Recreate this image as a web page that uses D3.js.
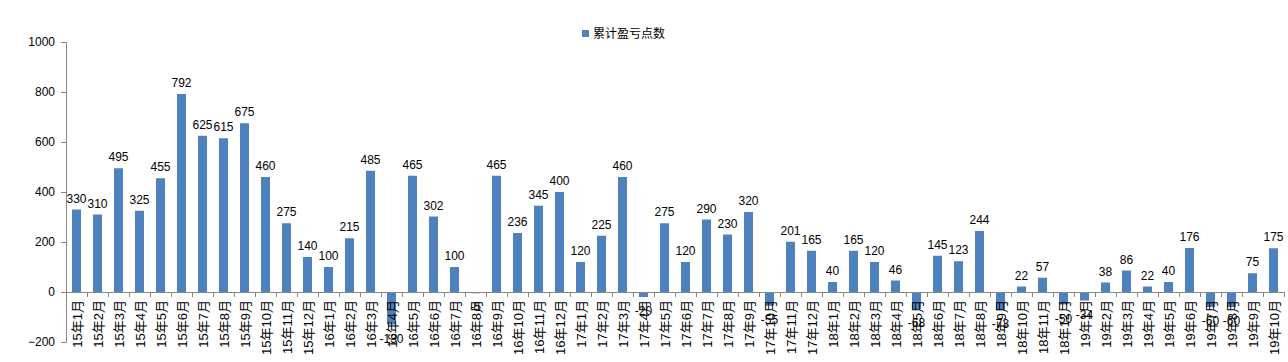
<!DOCTYPE html>
<html>
<head>
<meta charset="utf-8">
<script src="https://cdn.jsdelivr.net/npm/d3@7"></script>
<style>
  body { margin: 0; background: #fff; }
  svg { display: block; }
</style>
</head>
<body>
<div id="chart"></div>
<script>
// months, 15年1月 .. 19年10月
const years = ["15", "16", "17", "18", "19"];
const months = years.flatMap(y => d3.range(1, 13).map(m => `${y}年${m}月`)).slice(0, 58);

// 累计盈亏点数
const values = [
    330, 310, 495, 325, 455, 792, 625, 615, 675, 460, 275, 140,
    100, 215, 485, -130, 465, 302, 100, -5, 465, 236, 345, 400,
    120, 225, 460, -20, 275, 120, 290, 230, 320, -55, 201, 165,
    40, 165, 120, 46, -68, 145, 123, 244, -73, 22, 57, -50,
    -34, 38, 86, 22, 40, 176, -60, -60, 75, 175
];
const yTicks = [-200, 0, 200, 400, 600, 800, 1000];
const seriesName = "累计盈亏点数";

const width = 1288;
const height = 362;
const color = "#4F81BD";
const axisColor = "#868686";
const numFont = "'Liberation Sans', Arial, sans-serif";
const cjkFont = "'Liberation Sans', 'Noto Sans CJK SC', sans-serif";

const data = months.map((m, i) => ({ month: m, value: values[i] }));

const svg = d3.select("#chart")
    .append("svg")
    .attr("width", width)
    .attr("height", height);

const x = d3.scaleBand()
    .domain(months)
    .range([66, 1284])
    .paddingInner(0.57)
    .paddingOuter(0.285);

const y = d3.scaleLinear()
    .domain([-200, 1000])
    .range([342, 42]);

// y axis
const yAxis = svg.append("g")
    .attr("transform", "translate(66,0)")
    .call(d3.axisLeft(y).tickValues(yTicks).tickSize(5).tickPadding(6).tickFormat(d3.format("d")));
yAxis.select(".domain").attr("stroke", axisColor).attr("d", `M-5,${y(1000) + 0.5}H0.5V${y(-200) + 0.5}H-5`);
yAxis.selectAll(".tick line").attr("stroke", axisColor);
yAxis.selectAll(".tick text")
    .attr("font-family", numFont)
    .attr("font-size", 12)
    .attr("fill", "#000");

// bars
svg.append("g")
    .selectAll("rect")
    .data(data)
    .join("rect")
    .attr("x", d => x(d.month))
    .attr("width", x.bandwidth())
    .attr("y", d => y(Math.max(0, d.value)))
    .attr("height", d => Math.abs(y(d.value) - y(0)))
    .attr("fill", color);

// x axis on the zero line, ticks between categories
const step = x.step();
const xAxis = svg.append("g").attr("transform", `translate(0,${y(0)})`);
xAxis.append("line")
    .attr("x1", 66).attr("x2", 1284)
    .attr("y1", 0.5).attr("y2", 0.5)
    .attr("stroke", axisColor);
xAxis.selectAll("line.tick")
    .data(d3.range(months.length + 1))
    .join("line")
    .attr("class", "tick")
    .attr("x1", i => Math.round(66 + i * step) + 0.5)
    .attr("x2", i => Math.round(66 + i * step) + 0.5)
    .attr("y1", 0)
    .attr("y2", 5)
    .attr("stroke", axisColor);
xAxis.selectAll("text")
    .data(months)
    .join("text")
    .attr("transform", d => `translate(${x(d) + x.bandwidth() / 2 + 5},8) rotate(-90)`)
    .attr("text-anchor", "end")
    .attr("font-family", cjkFont)
    .attr("font-size", 13)
    .attr("fill", "#000")
    .text(d => d);

// value labels
svg.append("g")
    .selectAll("text")
    .data(data)
    .join("text")
    .attr("x", d => x(d.month) + x.bandwidth() / 2)
    .attr("y", d => d.value >= 0 ? y(d.value) - 7 : y(d.value) + 18)
    .attr("text-anchor", "middle")
    .attr("font-family", numFont)
    .attr("font-size", 12)
    .attr("fill", "#000")
    .text(d => d.value);

// legend
const legend = svg.append("g").attr("transform", "translate(582,30)");
legend.append("rect")
    .attr("width", 7).attr("height", 7)
    .attr("fill", color);
legend.append("text")
    .attr("x", 11).attr("y", 8)
    .attr("font-family", cjkFont)
    .attr("font-size", 12)
    .attr("fill", "#000")
    .text(seriesName);
</script>
</body>
</html>
